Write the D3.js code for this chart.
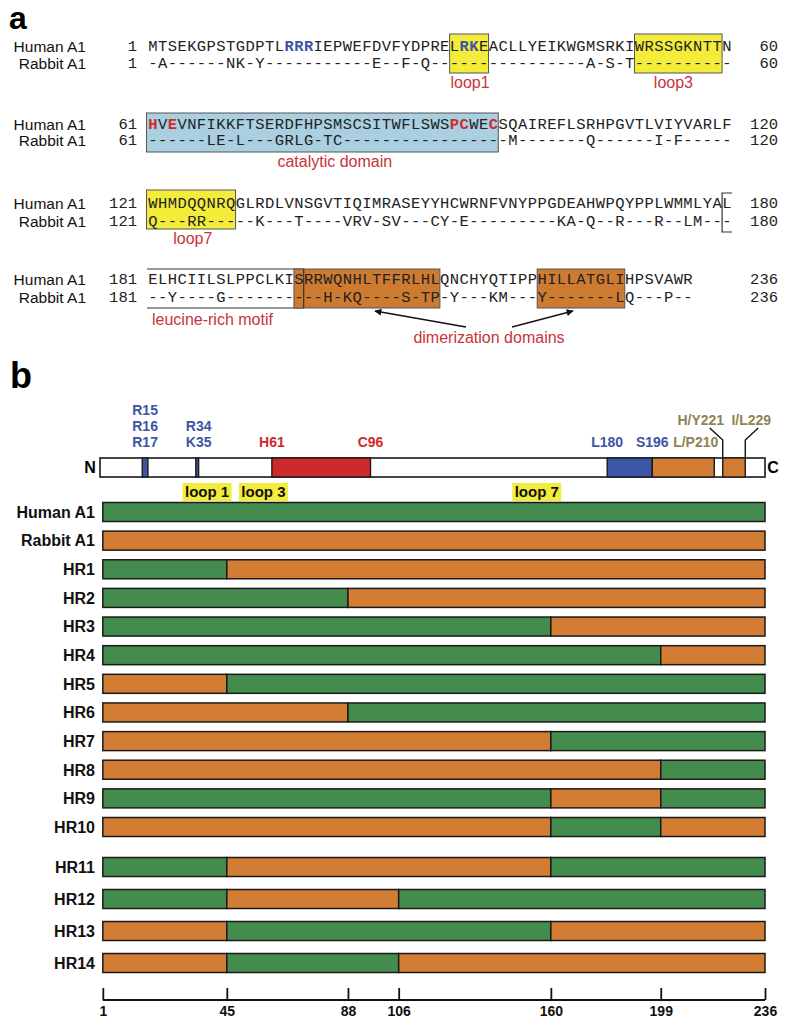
<!DOCTYPE html>
<html><head><meta charset="utf-8">
<script src="https://cdn.jsdelivr.net/npm/d3@7"></script>
<style>body{margin:0;background:#fff}svg{display:block}</style>
</head><body><svg id="c" width="787" height="1018"></svg>
<script>
// ---------- Panel a data ----------
const humanSeq = [
  "MTSEKGPSTGDPTLRRRIEPWEFDVFYDPRELRKEACLLYEIKWGMSRKIWRSSGKNTTN",
  "HVEVNFIKKFTSERDFHPSMSCSITWFLSWSPCWECSQAIREFLSRHPGVTLVIYVARLF",
  "WHMDQQNRQGLRDLVNSGVTIQIMRASEYYHCWRNFVNYPPGDEAHWPQYPPLWMMLYAL",
  "ELHCIILSLPPCLKISRRWQNHLTFFRLHLQNCHYQTIPPHILLATGLIHPSVAWR"
];
const rabbitSeq = [
  "-A------NK-Y" + "-----------" + "E--F-Q" + "----------------" + "A-S-T" + "----------",
  "------LE-L---GRLG-TC" + "-----------------" + "M-------Q------I-F-----",
  "Q---RR-----K---T----VRV-SV---CY-E---------KA-Q--R---R--LM---",
  "--Y----G" + "----------" + "H-KQ" + "----" + "S-TP" + "-Y---KM---Y-------LQ---P--"
];
const startNums = [1, 61, 121, 181];
const endNums = [60, 120, 180, 236];
const blueResidues = [15, 16, 17, 33, 34];
const redResidues = [61, 63, 92, 93, 96];
const seqBoxes = [
  {row: 0, from: 32, to: 35, kind: "loop", label: "loop1", labelAt: 33.1},
  {row: 0, from: 51, to: 59, kind: "loop", label: "loop3", labelAt: 54.0},
  {row: 1, from: 1, to: 36, kind: "cat", label: "catalytic domain", labelAt: 19.2},
  {row: 2, from: 1, to: 9, kind: "loop", label: "loop7", labelAt: 4.6},
  {row: 3, from: 16, to: 30, kind: "dimer", label: null},
  {row: 3, from: 41, to: 49, kind: "dimer", label: null}
];

// ---------- Panel b data ----------
const domainFeatures = [
  {start: 15, end: 17, kind: "blue"},
  {start: 34, end: 35, kind: "blue"},
  {start: 61, end: 96, kind: "red"},
  {start: 180, end: 196, kind: "blue"},
  {start: 196, end: 218, kind: "orange"},
  {start: 221, end: 229, kind: "orange"}
];
const domainLabels = [
  {lines: ["R15", "R16", "R17"], pos: 16, kind: "blue"},
  {lines: ["R34", "K35"], pos: 35, kind: "blue"},
  {lines: ["H61"], pos: 61, kind: "red"},
  {lines: ["C96"], pos: 96, kind: "red"},
  {lines: ["L180"], pos: 180, kind: "blue"},
  {lines: ["S196"], pos: 196, kind: "blue"},
  {lines: ["L/P210"], pos: 210, kind: "olive"}
];
const leaderLabels = [
  {text: "H/Y221", pos: 221, side: -1},
  {text: "I/L229", pos: 229, side: 1}
];
const loopLabels = ["loop 1", "loop 3", "loop 7"];
const loopLabelPos = [38, 58, 155];
const rowNames = ["Human A1", "Rabbit A1", "HR1", "HR2", "HR3", "HR4", "HR5", "HR6", "HR7",
  "HR8", "HR9", "HR10", "HR11", "HR12", "HR13", "HR14"];
const rowStartSpecies = ["H", "R", "H", "H", "H", "H", "R", "R", "R", "R", "H", "R", "H", "H", "R", "R"];
const rowBreaks = [[], [], [45], [88], [160], [199], [45], [88], [160], [199],
  [160, 199], [160, 199], [45, 160], [45, 106], [45, 160], [45, 106]];
const axisTicks = [1, 45, 88, 106, 160, 199, 236];

// ---------- Styles ----------
const C = {
  green: "#438c4e", orange: "#d27d33", blue: "#3d55a5", red: "#cf2a2b",
  olive: "#8c8552", yellow: "#f3ec3a", cat: "#a9cfe1", dimer: "#cc7b30",
  lab: "#c8343a"
};
const SANS = "'Liberation Sans', Arial, Helvetica, sans-serif";
const MONO = "'Liberation Mono', 'Courier New', monospace";

const svg = d3.select("#c");

// ================= Panel a =================
const x0 = 148, cw = 9.73, fsSeq = 15.5;
const rowsA = [{h: 46, r: 63}, {h: 124, r: 140}, {h: 203, r: 221}, {h: 279, r: 297}];
const boxY = [[34, 73], [113, 152], [190, 229], [269, 308]];
const gA = svg.append("g");

gA.append("text").attr("x", 9).attr("y", 29).attr("font-family", SANS)
  .attr("font-weight", "bold").attr("font-size", 32).text("a");

const fillFor = k => k === "loop" ? C.yellow : k === "cat" ? C.cat : C.dimer;

// leucine-rich motif bracket (behind boxes)
{
  const r2 = boxY[2], r3 = boxY[3];
  const bx = x0 + 59 * cw;
  gA.append("path").attr("fill", "none").attr("stroke", "#333").attr("stroke-width", 1.2)
    .attr("d", `M${bx + 10},${r2[0] + 3}H${bx}V${r2[1] + 3}H${bx + 10}`);
  const ex = x0 + 16 * cw;
  gA.append("path").attr("fill", "none").attr("stroke", "#333").attr("stroke-width", 1.2)
    .attr("d", `M${x0 - 1},${r3[0]}H${ex}M${x0 - 1},${r3[1]}H${ex}`);
}

gA.selectAll("rect.sb").data(seqBoxes).join("rect").attr("class", "sb")
  .attr("x", d => x0 + (d.from - 1) * cw - (d.from === 1 ? 1.5 : 0))
  .attr("y", d => boxY[d.row][0])
  .attr("width", d => (d.to - d.from + 1) * cw + (d.from === 1 ? 1.5 : 0))
  .attr("height", d => boxY[d.row][1] - boxY[d.row][0])
  .attr("fill", d => fillFor(d.kind)).attr("stroke", "#555").attr("stroke-width", 1);

// vertical line closing leucine motif inside first dimer box
{
  const r3 = boxY[3], ex = x0 + 16 * cw;
  gA.append("line").attr("x1", ex).attr("x2", ex).attr("y1", r3[0]).attr("y2", r3[1])
    .attr("stroke", "#333").attr("stroke-width", 1.2);
}

gA.selectAll("text.bl").data(seqBoxes.filter(d => d.label)).join("text").attr("class", "bl")
  .attr("x", d => x0 + d.labelAt * cw)
  .attr("y", d => boxY[d.row][1] + 9 + 5.6)
  .attr("text-anchor", "middle").attr("font-family", SANS).attr("font-size", 16)
  .attr("fill", C.lab).text(d => d.label);

rowsA.forEach((ry, i) => {
  [["Human A1", ry.h, humanSeq[i], true], ["Rabbit A1", ry.r, rabbitSeq[i], false]].forEach(([name, cy, seq, isHuman]) => {
    gA.append("text").attr("x", 86).attr("y", cy + 5.5).attr("text-anchor", "end")
      .attr("font-family", SANS).attr("font-size", 15.5).attr("fill", "#111").text(name);
    gA.append("text").attr("x", 137).attr("y", cy + 5.3).attr("text-anchor", "end")
      .attr("font-family", MONO).attr("font-size", fsSeq).attr("fill", "#222").text(startNums[i]);
    gA.append("text").attr("x", 778).attr("y", cy + 5.3).attr("text-anchor", "end")
      .attr("font-family", MONO).attr("font-size", fsSeq).attr("fill", "#222").text(endNums[i]);
    const chars = seq.split("").map((ch, j) => ({ch, j, res: startNums[i] + j}));
    gA.append("g").selectAll("text").data(chars).join("text")
      .attr("x", d => x0 + (d.j + 0.5) * cw).attr("y", cy + 5.3)
      .attr("text-anchor", "middle").attr("font-family", MONO).attr("font-size", fsSeq)
      .attr("font-weight", d => isHuman && (blueResidues.includes(d.res) || redResidues.includes(d.res)) ? "bold" : null)
      .attr("fill", d => isHuman && blueResidues.includes(d.res) ? C.blue :
        isHuman && redResidues.includes(d.res) ? C.red : "#222")
      .text(d => d.ch);
  });
});

gA.append("text").attr("x", 152).attr("y", 325).attr("font-family", SANS).attr("font-size", 16)
  .attr("fill", C.lab).text("leucine-rich motif");
gA.append("text").attr("x", 489).attr("y", 343).attr("text-anchor", "middle").attr("font-family", SANS)
  .attr("font-size", 16).attr("fill", C.lab).text("dimerization domains");

const defs = svg.append("defs");
defs.append("marker").attr("id", "ah").attr("viewBox", "0 0 10 10").attr("refX", 9).attr("refY", 5)
  .attr("markerWidth", 9).attr("markerHeight", 7).attr("markerUnits", "userSpaceOnUse").attr("orient", "auto")
  .append("path").attr("d", "M0,0L10,5L0,10z").attr("fill", "#111");
[[466, 327, 375, 311], [512, 327, 573, 311]].forEach(([a, b, c, d]) => {
  gA.append("line").attr("x1", a).attr("y1", b).attr("x2", c).attr("y2", d)
    .attr("stroke", "#111").attr("stroke-width", 1.3).attr("marker-end", "url(#ah)");
});

// ================= Panel b =================
const gB = svg.append("g");
gB.append("text").attr("x", 10).attr("y", 388).attr("font-family", SANS)
  .attr("font-weight", "bold").attr("font-size", 36).text("b");

const x = d3.scaleLinear().domain([0, 236]).range([100, 765]);
const colorOf = k => ({blue: C.blue, red: C.red, orange: C.orange, olive: C.olive})[k];

// domain bar
const barTop = 458, barH = 19;
gB.append("rect").attr("x", x(0)).attr("y", barTop).attr("width", x(236) - x(0)).attr("height", barH)
  .attr("fill", "#fff").attr("stroke", "#1a1a1a").attr("stroke-width", 1.6);
gB.selectAll("rect.df").data(domainFeatures).join("rect").attr("class", "df")
  .attr("x", d => x(d.start)).attr("y", barTop).attr("width", d => x(d.end) - x(d.start)).attr("height", barH)
  .attr("fill", d => colorOf(d.kind)).attr("stroke", "#1a1a1a").attr("stroke-width", 1.4);

gB.append("text").attr("x", 90).attr("y", barTop + barH / 2 + 5.8).attr("text-anchor", "middle")
  .attr("font-family", SANS).attr("font-weight", "bold").attr("font-size", 16).text("N");
gB.append("text").attr("x", 773).attr("y", barTop + barH / 2 + 5.8).attr("text-anchor", "middle")
  .attr("font-family", SANS).attr("font-weight", "bold").attr("font-size", 16).text("C");

domainLabels.forEach(d => {
  const n = d.lines.length;
  d.lines.forEach((t, k) => {
    gB.append("text").attr("x", x(d.pos) + (d.kind === "olive" ? 4 : 0))
      .attr("y", 442 - (n - 1 - k) * 16.2 + 5)
      .attr("text-anchor", "middle").attr("font-family", SANS).attr("font-weight", "bold")
      .attr("font-size", 14).attr("fill", colorOf(d.kind)).text(t);
  });
});
leaderLabels.forEach(d => {
  const px = x(d.pos);
  gB.append("text").attr("x", px + d.side * (d.side < 0 ? 22 : 6)).attr("y", 425)
    .attr("text-anchor", "middle").attr("font-family", SANS).attr("font-weight", "bold")
    .attr("font-size", 14).attr("fill", C.olive).text(d.text);
  gB.append("path").attr("fill", "none").attr("stroke", "#111").attr("stroke-width", 1.4)
    .attr("d", `M${px + d.side * 13},428L${px},440V${barTop}`);
});

// loop labels
const loopG = gB.selectAll("g.loop").data(loopLabels).join("g").attr("class", "loop")
  .attr("transform", (d, i) => `translate(${x(loopLabelPos[i])},492)`);
loopG.append("rect").attr("x", -24.5).attr("y", -9).attr("width", 49).attr("height", 18).attr("fill", C.yellow);
loopG.append("text").attr("y", 5.3).attr("text-anchor", "middle").attr("font-family", SANS)
  .attr("font-weight", "bold").attr("font-size", 15).attr("fill", "#111").text(d => d);

// rows
const yTop = d3.scalePoint().domain(rowNames.slice(0, 12)).range([512, 827]);
const yBot = d3.scalePoint().domain(rowNames.slice(12)).range([867, 963]);
const yRow = n => yTop.domain().includes(n) ? yTop(n) : yBot(n);
const rowH = 19;
const rows = rowNames.map((name, i) => {
  const pts = [1, ...rowBreaks[i], 236];
  let sp = rowStartSpecies[i];
  const segs = [];
  for (let k = 0; k < pts.length - 1; k++) {
    segs.push({a: pts[k], b: pts[k + 1], sp});
    sp = sp === "H" ? "R" : "H";
  }
  return {name, segs};
});
const rowG = gB.selectAll("g.row").data(rows).join("g").attr("class", "row")
  .attr("transform", d => `translate(0,${yRow(d.name)})`);
rowG.append("text").attr("x", 95).attr("y", 5.8).attr("text-anchor", "end").attr("font-family", SANS)
  .attr("font-weight", "bold").attr("font-size", 16).attr("fill", "#111").text(d => d.name);
rowG.selectAll("rect").data(d => d.segs).join("rect")
  .attr("x", d => x(d.a)).attr("y", -rowH / 2).attr("width", d => x(d.b) - x(d.a)).attr("height", rowH)
  .attr("fill", d => d.sp === "H" ? C.green : C.orange).attr("stroke", "#1a1a1a").attr("stroke-width", 1.5);

// axis
const axY = 1000;
const axG = gB.append("g").attr("transform", `translate(0,${axY})`)
  .call(d3.axisBottom(x).tickValues(axisTicks).tickSize(-12).tickSizeOuter(0).tickPadding(6));
axG.select(".domain").remove();
axG.selectAll(".tick line").attr("stroke", "#111").attr("stroke-width", 1.8);
axG.selectAll(".tick text").attr("font-family", SANS).attr("font-weight", "bold").attr("font-size", 14).attr("fill", "#111");
axG.append("line").attr("x1", x(1)).attr("x2", x(236)).attr("y1", 0).attr("y2", 0)
  .attr("stroke", "#111").attr("stroke-width", 1.8);
</script>
</body></html>
